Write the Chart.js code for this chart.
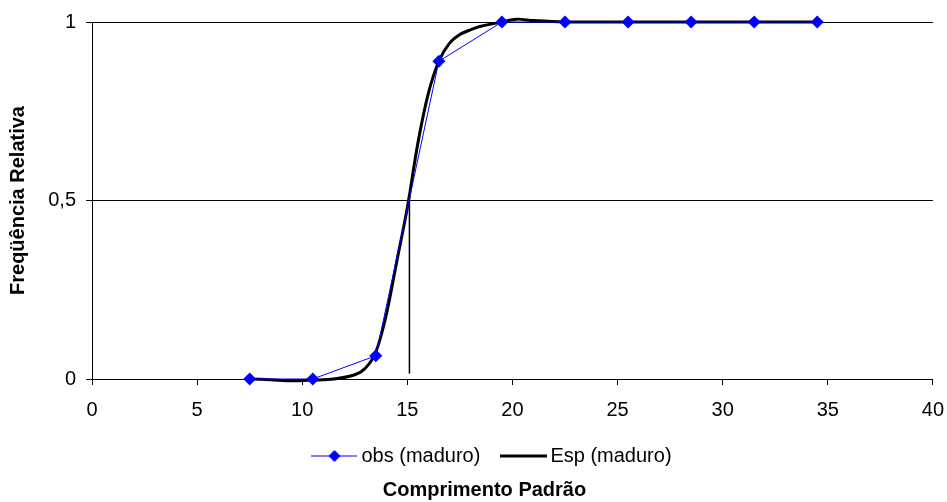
<!DOCTYPE html>
<html>
<head>
<meta charset="utf-8">
<script src="https://cdn.jsdelivr.net/npm/chart.js@4.4.0/dist/chart.umd.min.js"></script>
<style>
  html, body { margin: 0; padding: 0; background: #fff; }
  #wrap { width: 947px; height: 502px; position: relative; }
</style>
</head>
<body>
<div id="wrap"><canvas id="chart"></canvas></div>
<script>
// observed proportion of mature fish by length class
const obsLength = [7.5, 10.5, 13.5, 16.5, 19.5, 22.5, 25.5, 28.5, 31.5, 34.5];
const obsMature = [0, 0, 0.065, 0.89, 1, 1, 1, 1, 1, 1];

// expected (fitted) curve
const espLength = [7.5, 8.5, 9.5, 10.5, 11.5, 12.5, 13, 13.5, 14, 14.5, 15, 15.5, 16, 16.5, 17, 17.5, 18, 18.5, 19.5, 20.2, 21, 22.5, 25.5, 28.5, 31.5, 34.5];
const espMature = [0, -0.002, -0.005, -0.003, 0, 0.012, 0.03, 0.075, 0.18, 0.33, 0.48, 0.66, 0.8, 0.89, 0.94, 0.965, 0.978, 0.988, 1.0, 1.008, 1.004, 1.0, 1, 1, 1, 1];

// L50 marker
const l50 = 15.1;
const l50Range = [0.015, 0.51];

const xTicks = [0, 5, 10, 15, 20, 25, 30, 35, 40];
const yTickLabels = { 0: '0', 0.5: '0,5', 1: '1' };

const font = "'Liberation Sans', Arial, sans-serif";

function toPoints(xs, ys) {
  return xs.map((x, i) => ({ x: x, y: ys[i] }));
}

// legend icons
function makeIcon(w, h, draw) {
  const c = document.createElement('canvas');
  c.width = w; c.height = h;
  draw(c.getContext('2d'), w, h);
  return c;
}
const obsIcon = makeIcon(46, 14, (ctx, w, h) => {
  ctx.strokeStyle = '#0000ff';
  ctx.lineWidth = 1;
  ctx.beginPath(); ctx.moveTo(0, h / 2); ctx.lineTo(w, h / 2); ctx.stroke();
  ctx.fillStyle = '#0000ff';
  ctx.beginPath();
  ctx.moveTo(w / 2, h / 2 - 6); ctx.lineTo(w / 2 + 6, h / 2);
  ctx.lineTo(w / 2, h / 2 + 6); ctx.lineTo(w / 2 - 6, h / 2);
  ctx.closePath(); ctx.fill();
});
const espIcon = makeIcon(47, 14, (ctx, w, h) => {
  ctx.strokeStyle = '#000';
  ctx.lineWidth = 3;
  ctx.beginPath(); ctx.moveTo(0, h / 2); ctx.lineTo(w, h / 2); ctx.stroke();
});

// nudge legend and bottom title to the right, as in the original
const boxShift = {
  id: 'boxShift',
  afterLayout(chart) {
    if (chart.legend) {
      chart.legend.left += 28;
      chart.legend.right += 28;
    }
    if (chart.titleBlock) {
      chart.titleBlock.left += 18;
      chart.titleBlock.right += 18;
    }
  }
};

new Chart(document.getElementById('chart'), {
  type: 'line',
  plugins: [boxShift],
  data: {
    datasets: [
      {
        label: 'obs (maduro)',
        data: toPoints(obsLength, obsMature),
        borderColor: '#0000ff',
        backgroundColor: '#0000ff',
        borderWidth: 1,
        pointStyle: 'rectRot',
        pointRadius: 6.5,
        pointBorderWidth: 0,
        tension: 0,
        clip: false,
        order: 0
      },
      {
        label: 'Esp (maduro)',
        data: toPoints(espLength, espMature),
        borderColor: '#000',
        borderWidth: 3,
        pointRadius: 0,
        tension: 0.3,
        clip: false,
        order: 1
      },
      {
        label: 'L50',
        data: [{ x: l50, y: l50Range[0] }, { x: l50, y: l50Range[1] }],
        borderColor: '#000',
        borderWidth: 1.5,
        pointRadius: 0,
        clip: false,
        order: 2
      }
    ]
  },
  options: {
    responsive: true,
    maintainAspectRatio: false,
    animation: false,
    layout: { padding: { top: 22, right: 14, left: 0, bottom: 0 } },
    scales: {
      x: {
        type: 'linear',
        min: 0,
        max: 40,
        afterBuildTicks: (s) => { s.ticks = xTicks.map(v => ({ value: v })); },
        afterFit: (s) => { s.height = 41; },
        ticks: { color: '#000', font: { family: font, size: 20, lineHeight: 2.2 }, padding: 3, maxRotation: 0 },
        grid: { display: true, drawOnChartArea: false, drawTicks: true, tickLength: 6, color: '#000' },
        border: { color: '#000', width: 1 }
      },
      y: {
        min: 0,
        max: 1,
        afterBuildTicks: (s) => { s.ticks = [0, 0.5, 1].map(v => ({ value: v })); },
        afterFit: (s) => { s.width = 92; },
        ticks: {
          color: '#000',
          font: { family: font, size: 20 },
          padding: 10,
          callback: (v) => yTickLabels[v]
        },
        grid: { color: '#000', lineWidth: 1, tickLength: 6, drawTicks: true },
        border: { color: '#000', width: 1 },
        title: {
          display: true,
          text: 'Freqüência Relativa',
          color: '#000',
          font: { family: font, size: 20, weight: 'bold' },
          padding: { top: 6, bottom: 0 }
        }
      }
    },
    plugins: {
      legend: {
        position: 'bottom',
        labels: {
          color: '#000',
          font: { family: font, size: 20 },
          usePointStyle: true,
          pointStyleWidth: 34,
          padding: 26,
          filter: (item) => item.datasetIndex < 2,
          generateLabels: (chart) => chart.data.datasets.map((ds, i) => ({
            text: ds.label,
            datasetIndex: i,
            pointStyle: i === 0 ? obsIcon : espIcon,
            fillStyle: 'transparent',
            strokeStyle: 'transparent',
            lineWidth: 0,
            fontColor: '#000'
          }))
        }
      },
      title: {
        display: true,
        position: 'bottom',
        text: 'Comprimento Padrão',
        color: '#000',
        font: { family: font, size: 20, weight: 'bold' },
        padding: { top: 2, bottom: 0 }
      },
      tooltip: { enabled: false }
    }
  }
});
</script>
</body>
</html>
